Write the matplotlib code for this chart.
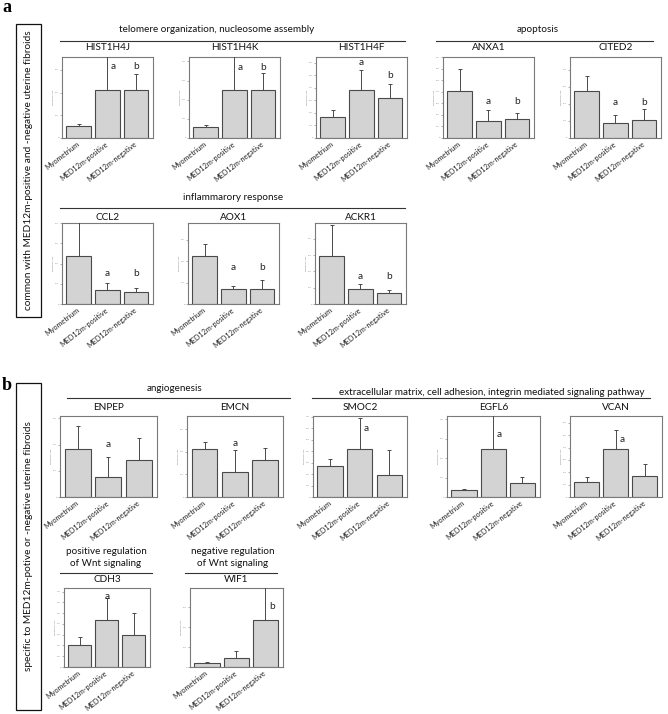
import matplotlib
matplotlib.use('Agg')
import matplotlib.pyplot as plt
from matplotlib.lines import Line2D
from matplotlib.patches import Rectangle

plt.rcParams['font.family'] = ['Lato', 'DejaVu Sans']

groups = ['Myometrium', 'MED12m-positive', 'MED12m-negative']

genes = ['HIST1H4J', 'HIST1H4K', 'HIST1H4F', 'ANXA1', 'CITED2',
         'CCL2', 'AOX1', 'ACKR1',
         'ENPEP', 'EMCN', 'SMOC2', 'EGFL6', 'VCAN',
         'CDH3', 'WIF1']

# mean expression (arbitrary units, 1 unit = 1 tick)
bar_means = [[0.54, 2.10, 2.10], [0.56, 2.49, 2.49], [1.70, 3.79, 3.20],
             [4.10, 1.50, 1.60], [2.78, 0.86, 1.06],
             [2.36, 0.69, 0.59], [2.22, 0.69, 0.72], [2.95, 0.92, 0.68],
             [1.82, 0.77, 1.41], [2.12, 1.10, 1.65], [2.69, 4.16, 1.88],
             [0.36, 2.46, 0.70], [1.24, 3.87, 1.69],
             [2.06, 4.39, 2.97], [0.20, 0.43, 2.36]]
# top of the error whisker
bar_tops = [[0.63, 4.00, 2.81], [0.66, 4.60, 3.39], [2.21, 5.44, 4.27],
            [6.00, 2.43, 2.17], [3.65, 1.35, 1.70],
            [4.50, 1.03, 0.79], [2.78, 0.82, 1.10], [4.86, 1.25, 0.86],
            [2.71, 1.52, 2.24], [2.44, 2.07, 2.16], [3.29, 6.85, 4.05],
            [0.43, 4.50, 1.03], [1.61, 5.43, 2.69],
            [2.79, 6.36, 4.97], [0.25, 0.79, 4.50]]
y_max = [3.57, 4.23, 6.45, 7.00, 4.75, 4.00, 3.77, 4.98,
         3.09, 3.59, 7.05, 4.17, 6.56, 7.33, 3.97]
sig_letters = [['', 'a', 'b'], ['', 'a', 'b'], ['', 'a', 'b'], ['', 'a', 'b'], ['', 'a', 'b'],
               ['', 'a', 'b'], ['', 'a', 'b'], ['', 'a', 'b'],
               ['', 'a', ''], ['', 'a', ''], ['', 'a', ''], ['', 'a', ''], ['', 'a', ''],
               ['', 'a', ''], ['', '', 'b']]
letter_y = [[0, 3.13, 3.13], [0, 3.70, 3.70], [0, 6.00, 4.99], [0, 3.18, 3.18], [0, 2.11, 2.11],
            [0, 1.49, 1.49], [0, 1.71, 1.71], [0, 1.70, 1.70],
            [0, 1.99, 0], [0, 2.35, 0], [0, 5.98, 0], [0, 3.20, 0], [0, 4.68, 0],
            [0, 6.52, 0], [0, 0, 3.03]]

# axes boxes in pixels: left, top, width, height
boxes = [(62, 57, 91, 81), (189, 57, 91, 81), (316, 57, 91, 81), (443, 57, 91, 81), (570, 57, 91, 81),
         (62, 223, 91, 81), (188, 223, 91, 81), (315, 223, 91, 81),
         (60, 416, 97, 81), (187, 416, 96, 81), (313, 416, 94, 81), (447, 416, 93, 81), (570, 416, 92, 81),
         (64, 588, 86, 79), (190, 588, 93, 79)]
title_gap = [10, 10, 10, 10, 10, 6, 6, 6, 8, 8, 8, 8, 8, 8, 8]

# group headers: text lines, text x, text y, line x0, line x1, line y
headers = [(['telomere organization, nucleosome assembly'], 217, [30], 60, 405, 41),
           (['apoptosis'], 538, [30], 436, 653, 41),
           (['inflammarory response'], 233, [198], 60, 405, 208),
           (['angiogenesis'], 175, [389], 67, 290, 398),
           (['extracellular matrix, cell adhesion, integrin mediated signaling pathway'], 492, [392], 312, 650, 398),
           (['positive regulation', 'of Wnt signaling'], 106, [552, 563], 60, 152, 573),
           (['negative regulation', 'of Wnt signaling'], 233, [552, 563], 185, 277, 573)]

W, H = 668, 714
fig = plt.figure(figsize=(W / 100, H / 100), dpi=100)
fig.patch.set_facecolor('white')

edge = '#4a4a4a'
for i, gene in enumerate(genes):
    left, top, w, h = boxes[i]
    ax = fig.add_axes([left / W, 1 - (top + h) / H, w / W, h / H])
    x = range(3)
    means = bar_means[i]
    errs = [t - m for t, m in zip(bar_tops[i], means)]
    ax.bar(x, means, width=0.86, color='#d3d3d3', edgecolor=edge, linewidth=0.8, zorder=2)
    ax.errorbar(x, means, yerr=[[0, 0, 0], errs], fmt='none', ecolor=edge,
                elinewidth=0.7, capsize=1.5, capthick=0.7, zorder=3)
    for j in range(3):
        if sig_letters[i][j]:
            dx = 0.22 if letter_y[i][j] < bar_tops[i][j] else 0
            ax.text(j + dx, letter_y[i][j], sig_letters[i][j], ha='center', va='center',
                    fontsize=7.2, color='#222222')
    ax.set_xlim(-0.58, 2.6)
    ax.set_ylim(0, y_max[i])
    ax.set_yticks(range(int(y_max[i]) + 1))
    ax.set_yticklabels([str(v * 100) for v in range(int(y_max[i]) + 1)], fontsize=1.6, color='#777777')
    ax.set_ylabel('expression value', fontsize=1.5, color='#777777', labelpad=1)
    ax.tick_params(axis='y', length=1.2, width=0.4, pad=1, colors='#777777')
    ax.set_xticks(list(x))
    ax.set_xticklabels(groups, rotation=38, ha='right', va='center', rotation_mode='anchor',
                       fontsize=5.2, color='#222222')
    ax.tick_params(axis='x', length=0, pad=3.5)
    for s in ax.spines.values():
        s.set_color('#7a7a7a')
        s.set_linewidth(0.8)
    fig.text((left + w / 2) / W, 1 - (top - title_gap[i]) / H, gene, ha='center', va='center',
             fontsize=7.2, color='#111111')

for lines, tx, tys, x0, x1, ly in headers:
    for text, ty in zip(lines, tys):
        fig.text(tx / W, 1 - ty / H, text, ha='center', va='center', fontsize=7.1, color='#111111')
    fig.add_artist(Line2D([x0 / W, x1 / W], [1 - ly / H, 1 - ly / H], transform=fig.transFigure,
                          color='#333333', linewidth=0.8))

# side labels
side = [('common with MED12m-positive and -negative uterine fibroids', 24, 317),
        ('specific to MED12m-potive or -negative uterine fibroids', 383, 710)]
for text, y0, y1 in side:
    fig.add_artist(Rectangle((16 / W, 1 - y1 / H), 25 / W, (y1 - y0) / H, transform=fig.transFigure,
                             fill=False, edgecolor='#111111', linewidth=0.9))
    fig.text(28.5 / W, 1 - (y0 + y1) / 2 / H, text, rotation=90, ha='center', va='center',
             fontsize=7.3, color='#111111')

fig.text(2 / W, 1 - 8 / H, 'a', fontsize=13, fontweight='bold', family='Liberation Serif', va='center')
fig.text(2 / W, 1 - 385 / H, 'b', fontsize=13, fontweight='bold', family='Liberation Serif', va='center')

fig.savefig('out.png', dpi=100)
